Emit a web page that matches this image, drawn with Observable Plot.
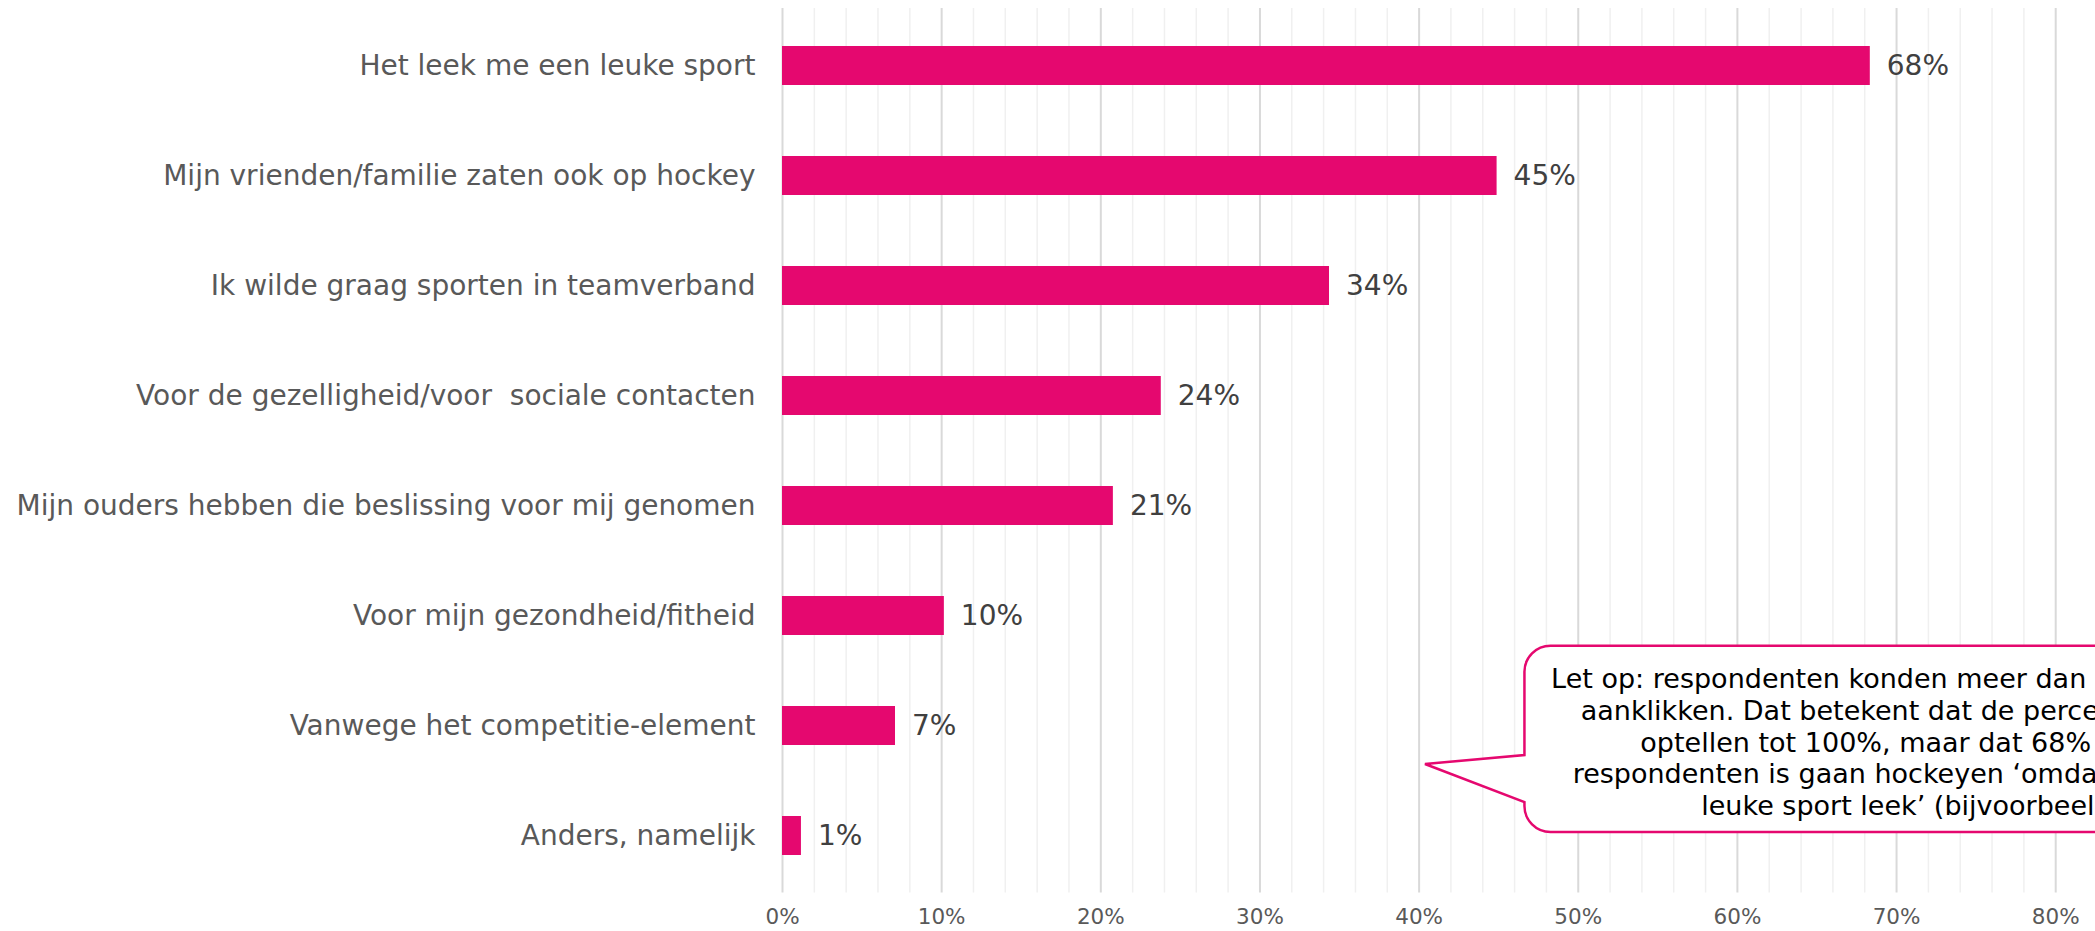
<!DOCTYPE html>
<html>
<head>
<meta charset="utf-8">
<script src="https://cdn.jsdelivr.net/npm/d3@7"></script>
<script src="https://cdn.jsdelivr.net/npm/@observablehq/plot@0.6"></script>
<style>
  html, body { margin: 0; padding: 0; background: white; overflow: hidden; }
  svg text { white-space: pre; }
</style>
</head>
<body>
<div id="chart"></div>
<script>
// Categories (top to bottom)
const categories = [
  "Het leek me een leuke sport",
  "Mijn vrienden/familie zaten ook op hockey",
  "Ik wilde graag sporten in teamverband",
  "Voor de gezelligheid/voor  sociale contacten",
  "Mijn ouders hebben die beslissing voor mij genomen",
  "Voor mijn gezondheid/fitheid",
  "Vanwege het competitie-element",
  "Anders, namelijk"
];
// Percentages
const values = [68.35, 44.9, 34.37, 23.8, 20.79, 10.17, 7.1, 1.19];
const valueLabels = ["68%", "45%", "34%", "24%", "21%", "10%", "7%", "1%"];

// Axis ticks
const majorTicks = [0, 10, 20, 30, 40, 50, 60, 70, 80];
const tickLabels = ["0%", "10%", "20%", "30%", "40%", "50%", "60%", "70%", "80%"];
const minorTicks = [2, 4, 6, 8, 12, 14, 16, 18, 22, 24, 26, 28, 32, 34, 36, 38,
  42, 44, 46, 48, 52, 54, 56, 58, 62, 64, 66, 68, 72, 74, 76, 78];

// Callout note text
const noteLines = [
  "Let op: respondenten konden meer dan één antwoord",
  "aanklikken. Dat betekent dat de percentages niet",
  "optellen tot 100%, maar dat 68% van de",
  "respondenten is gaan hockeyen ‘omdat ze het een",
  "leuke sport leek’ (bijvoorbeeld)."
];

const data = categories.map((c, i) => ({category: c, value: values[i], label: valueLabels[i]}));

const barColor = "#E5086F";

const plot = Plot.plot({
  width: 2095,
  height: 931,
  marginLeft: 782,
  marginRight: 0,
  marginTop: 8,
  marginBottom: 38.5,
  x: {domain: [0, 82.5]},
  y: {domain: categories, paddingInner: 0.647, paddingOuter: 0.3235},
  style: {fontFamily: "'DejaVu Sans', Verdana, sans-serif", background: "white"},
  marks: [
    Plot.ruleX(minorTicks, {stroke: "#F0F0F0", strokeWidth: 1.5}),
    Plot.ruleX(majorTicks, {stroke: "#D9D9D9", strokeWidth: 2}),
    Plot.barX(data, {x: "value", y: "category", fill: barColor}),
    Plot.text(data, {x: "value", y: "category", text: "label", textAnchor: "start", dx: 16.5, fontSize: 28, fill: "#404040"}),
    Plot.axisY({tickSize: 0, tickPadding: 27, fontSize: 28, color: "#595959", label: null}),
    Plot.axisX({ticks: majorTicks, tickFormat: d => tickLabels[majorTicks.indexOf(d)], tickSize: 0, tickPadding: 16, fontSize: 21.5, color: "#595959", label: null})
  ]
});

document.getElementById("chart").appendChild(plot);

// Callout annotation (speech bubble)
(function drawCallout() {
  const svg = d3.select(plot);
  const xs = plot.scale("x");
  const bx = xs.apply(46.65), tipX = xs.apply(40.4);
  const by0 = 645.7, by1 = 832, bx1 = 2400, r = 26;
  const joinTop = 755, joinBottom = 802, tipY = 764;
  const path = [
    `M${bx + r},${by0}`, `H${bx1}`, `V${by1}`, `H${bx + r}`,
    `A${r},${r} 0 0 1 ${bx},${by1 - r}`,
    `V${joinBottom}`, `L${tipX},${tipY}`, `L${bx},${joinTop}`,
    `V${by0 + r}`, `A${r},${r} 0 0 1 ${bx + r},${by0}`, "Z"
  ].join(" ");
  const g = svg.append("g");
  g.append("path").attr("d", path).attr("fill", "white").attr("stroke", barColor).attr("stroke-width", 2.5);
  const cx = 1916;
  g.selectAll("text.note").data(noteLines).join("text")
    .attr("class", "note")
    .attr("x", cx)
    .attr("y", (d, i) => 688.3 + i * 31.7)
    .attr("text-anchor", "middle")
    .attr("font-size", 27)
    .attr("fill", "#000")
    .text(d => d);
})();
</script>
</body>
</html>
